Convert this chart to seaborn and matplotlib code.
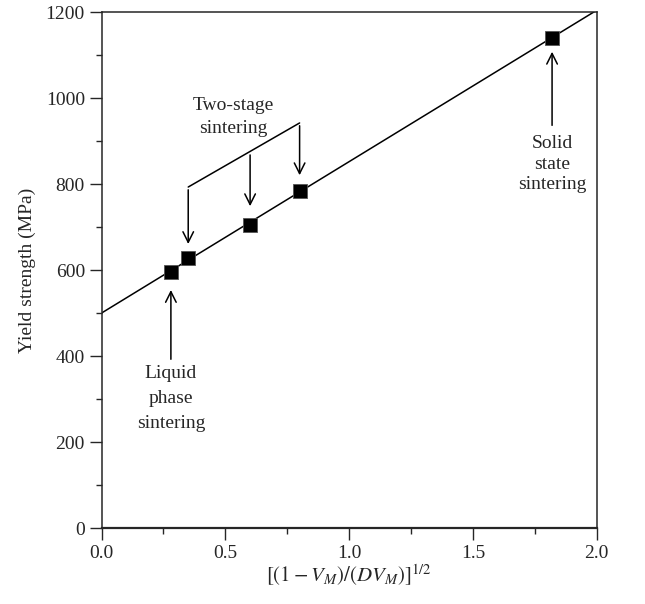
import matplotlib
matplotlib.use("Agg")
import matplotlib.pyplot as plt
import seaborn as sns
import numpy as np
import pandas as pd
from matplotlib.ticker import MultipleLocator

# Data
x_vals = [0.28, 0.35, 0.60, 0.80, 1.82]
y_vals = [595, 629, 705, 784, 1139]
fit_intercept = 500
fit_slope = 352

df = pd.DataFrame({"x": x_vals, "y": y_vals})

sns.set_style("ticks")
plt.rcParams['font.family'] = ['Liberation Serif', 'DejaVu Serif']
plt.rcParams['mathtext.fontset'] = 'stix'

fig = plt.figure(figsize=(6.45, 6.04), dpi=100)
ax = fig.add_axes([0.1575, 0.1258, 0.7675, 0.8543])

# fitted line
fx = np.array([0.0, 2.0])
ax.plot(fx, fit_intercept + fit_slope * fx, color="black", lw=1.1, zorder=2)

sns.scatterplot(data=df, x="x", y="y", marker="s", s=105, color="black",
                edgecolor="#555555", linewidth=0.6, ax=ax, zorder=3)

ax.set_xlim(0, 2.0)
ax.set_ylim(0, 1200)
ax.xaxis.set_major_locator(MultipleLocator(0.5))
ax.xaxis.set_minor_locator(MultipleLocator(0.25))
ax.yaxis.set_major_locator(MultipleLocator(200))
ax.yaxis.set_minor_locator(MultipleLocator(100))
ax.xaxis.set_major_formatter(matplotlib.ticker.FormatStrFormatter('%.1f'))
ax.tick_params(which="major", direction="out", length=8.5, width=1.0, labelsize=14)
ax.tick_params(which="minor", direction="out", length=4.3, width=1.0)
for sp in ax.spines.values():
    sp.set_visible(True)
    sp.set_linewidth(1.1)
ax.spines["bottom"].set_linewidth(1.6)

ax.set_xlabel(r"$\left[(1-V_M)/(DV_M)\right]^{1/2}$", fontsize=15, labelpad=1)
ax.set_ylabel("Yield strength (MPa)", fontsize=14, labelpad=7)

arrow = dict(arrowstyle="->", color="black", lw=1.1, mutation_scale=19)
fs = 14


def stacked(x, baselines, lines):
    for yy, s in zip(baselines, lines):
        ax.text(x, yy, s, ha="center", va="baseline", fontsize=fs)


# Liquid phase sintering
ax.annotate("", xy=(x_vals[0], 560), xytext=(x_vals[0], 386), arrowprops=arrow)
stacked(x_vals[0], [349, 291, 233], ["Liquid", "phase", "sintering"])

# Solid state sintering
ax.annotate("", xy=(x_vals[4], 1114), xytext=(x_vals[4], 930), arrowprops=arrow)
stacked(x_vals[4], [884, 836, 788], ["Solid", "state", "sintering"])

# Two-stage sintering bracket
bx = [x_vals[1], x_vals[2], x_vals[3]]
by = [793, 874, 942]
ax.plot([bx[0], bx[2]], [by[0], by[2]], color="black", lw=1.1)
tips = [654, 742, 814]
for xx, yy, tt in zip(bx, by, tips):
    ax.annotate("", xy=(xx, tt), xytext=(xx, yy), arrowprops=arrow)
stacked(0.531, [972, 918], ["Two-stage", "sintering"])

fig.savefig("out.png", dpi=100)
